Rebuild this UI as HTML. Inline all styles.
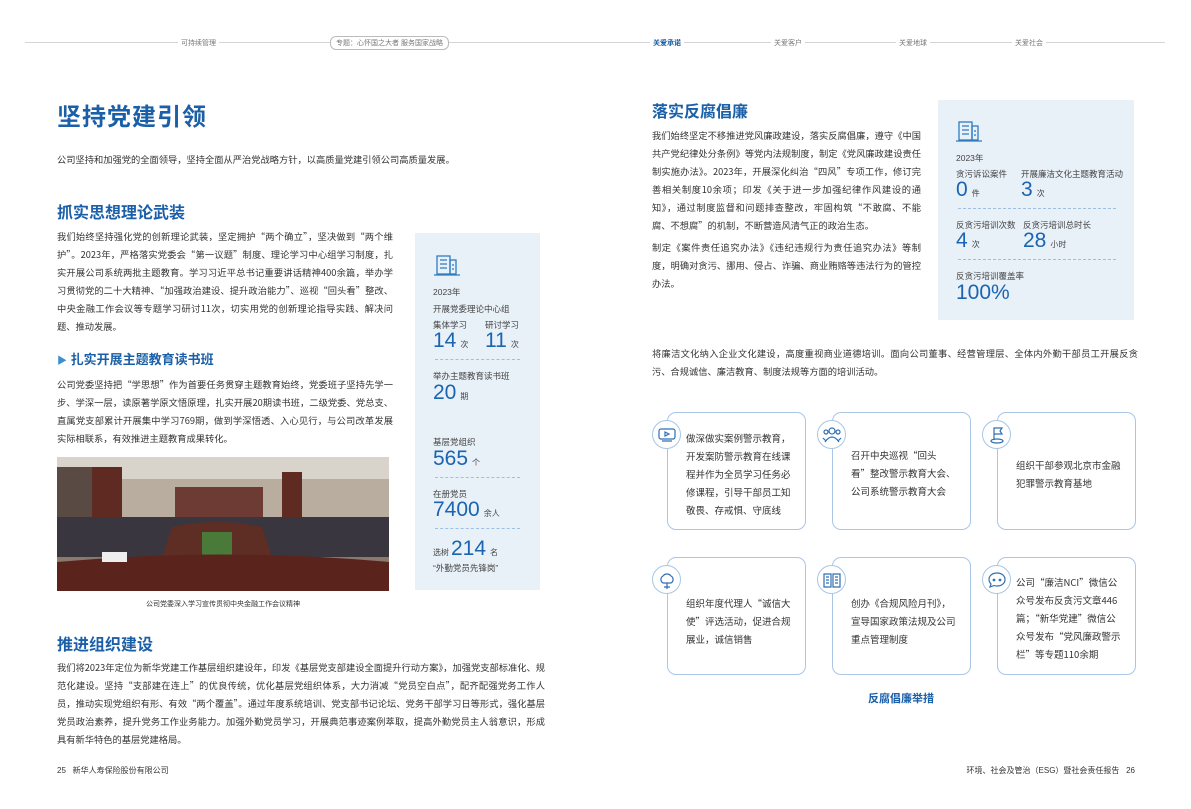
<!DOCTYPE html>
<html><head><meta charset="utf-8"><style>
*{margin:0;padding:0;box-sizing:border-box}
body{width:1191px;height:809px;background:#fff;position:relative;overflow:hidden;font-family:"Liberation Sans","Noto Sans CJK SC",sans-serif;color:#333}
.a{position:absolute}
.nav{font-size:7px;color:#777;top:38px;background:#fff;padding:0 3px}
.p{font-family:"Noto Sans CJK SC","Liberation Sans",sans-serif;font-size:9.25px;line-height:18px;color:#333;text-align:justify}
.h1{font-size:24px;color:#1a5fa8;font-weight:bold;letter-spacing:1px}
.h2{font-size:16px;color:#1a5fa8;font-weight:bold}
.box{background:#e8f0f8}
.lab{font-size:8.5px;color:#444}
.num{font-size:21px;color:#1a64b0;line-height:22px}
.num small{font-size:8px;color:#444;margin-left:4px}
.dash{border-top:1px dashed #9fbfe0;height:0}
.card{border:1.3px solid #a9c6e6;border-radius:9px;background:#fff;width:139px;height:118px}
.ct{font-family:"Noto Sans CJK SC","Liberation Sans",sans-serif;font-size:9.5px;line-height:18px;color:#333}
.ic{width:29px;height:29px;border-radius:50%;border:1.2px solid #a9c6e6;background:#fff;display:flex;align-items:center;justify-content:center}
</style></head><body>
<div class="a" style="left:25px;top:42px;width:1140px;border-top:1px solid #d4d4d4"></div>
<div class="a nav" style="left:178px">可持续管理</div>
<div class="a nav" style="left:330px;top:36px;border:1px solid #bbb;border-radius:6px;padding:1px 5px">专题：心怀国之大者 服务国家战略</div>
<div class="a nav" style="left:650px;color:#1a5fa8;font-weight:bold">关爱承诺</div>
<div class="a nav" style="left:771px">关爱客户</div>
<div class="a nav" style="left:896px">关爱地球</div>
<div class="a nav" style="left:1012px">关爱社会</div>

<div class="a h1" style="left:57px;top:97px">坚持党建引领</div>
<div class="a p" style="left:57px;top:150px;width:490px">公司坚持和加强党的全面领导，坚持全面从严治党战略方针，以高质量党建引领公司高质量发展。</div>
<div class="a h2" style="left:57px;top:199px">抓实思想理论武装</div>
<div class="a p" style="left:57px;top:227px;width:336px">我们始终坚持强化党的创新理论武装，坚定拥护“两个确立”，坚决做到“两个维护”。2023年，严格落实党委会“第一议题”制度、理论学习中心组学习制度，扎实开展公司系统两批主题教育。学习习近平总书记重要讲话精神400余篇，举办学习贯彻党的二十大精神、“加强政治建设、提升政治能力”、巡视“回头看”整改、中央金融工作会议等专题学习研讨11次，切实用党的创新理论指导实践、解决问题、推动发展。</div>
<div class="a" style="left:57px;top:349px;font-size:13px;color:#1a5fa8;font-weight:bold"><span style="color:#3a8fd0;font-size:10px">▶</span> 扎实开展主题教育读书班</div>
<div class="a p" style="left:57px;top:375px;width:336px">公司党委坚持把“学思想”作为首要任务贯穿主题教育始终，党委班子坚持先学一步、学深一层，读原著学原文悟原理，扎实开展20期读书班，二级党委、党总支、直属党支部累计开展集中学习769期，做到学深悟透、入心见行，与公司改革发展实际相联系，有效推进主题教育成果转化。</div>
<svg class="a" style="left:57px;top:457px" width="332" height="134">
<rect width="332" height="134" fill="#8a7a6e"/>
<rect width="332" height="30" fill="#d8d4cc"/>
<rect y="22" width="332" height="45" fill="#b9ada0"/>
<rect x="118" y="30" width="88" height="35" fill="#6e3a34"/>
<rect x="0" y="10" width="35" height="60" fill="#5a4a44"/>
<rect x="35" y="10" width="30" height="60" fill="#5e2a22"/>
<rect x="225" y="15" width="20" height="50" fill="#5e2a22"/>
<path d="M0 60 L332 60 L332 100 L0 100Z" fill="#3a3640"/>
<path d="M115 70 Q160 60 205 70 L220 115 L100 115Z" fill="#5e2d24"/>
<rect x="145" y="75" width="30" height="30" fill="#4a7a3a"/>
<path d="M0 105 Q166 90 332 105 L332 134 L0 134Z" fill="#5a241c"/>
<rect x="45" y="95" width="25" height="10" fill="#eee"/>
</svg>
<div class="a" style="left:57px;top:599px;width:332px;text-align:center;font-size:7px;color:#333">公司党委深入学习宣传贯彻中央金融工作会议精神</div>

<div class="a box" style="left:415px;top:233px;width:125px;height:357px"></div>
<svg class="a" style="left:434px;top:254px" width="26" height="22"><g fill="none" stroke="#2f7bc0" stroke-width="1.3"><rect x="3" y="2" width="13" height="18"/><rect x="16" y="6" width="6" height="14"/><path d="M0 21H26M6 6h7M6 10h7M6 14h7M19 10v2M19 14v2"/></g></svg>
<div class="a lab" style="left:433px;top:286px">2023年</div>
<div class="a lab" style="left:433px;top:303px">开展党委理论中心组</div>
<div class="a lab" style="left:433px;top:319px">集体学习</div>
<div class="a lab" style="left:485px;top:319px">研讨学习</div>
<div class="a num" style="left:433px;top:330px">14<small>次</small></div>
<div class="a num" style="left:485px;top:330px">11<small>次</small></div>
<div class="a dash" style="left:435px;top:359px;width:85px"></div>
<div class="a lab" style="left:433px;top:370px">举办主题教育读书班</div>
<div class="a num" style="left:433px;top:382px">20<small>期</small></div>
<div class="a lab" style="left:433px;top:436px">基层党组织</div>
<div class="a num" style="left:433px;top:448px">565<small>个</small></div>
<div class="a dash" style="left:435px;top:477px;width:85px"></div>
<div class="a lab" style="left:433px;top:488px">在册党员</div>
<div class="a num" style="left:433px;top:499px">7400<small>余人</small></div>
<div class="a dash" style="left:435px;top:528px;width:85px"></div>
<div class="a num" style="left:433px;top:538px"><small style="margin:0 2px 0 0">选树</small>214<small>名</small></div>
<div class="a lab" style="left:433px;top:562px">“外勤党员先锋岗”</div>

<div class="a h2" style="left:57px;top:631px">推进组织建设</div>
<div class="a p" style="left:57px;top:658px;width:488px">我们将2023年定位为新华党建工作基层组织建设年，印发《基层党支部建设全面提升行动方案》，加强党支部标准化、规范化建设。坚持“支部建在连上”的优良传统，优化基层党组织体系，大力消减“党员空白点”，配齐配强党务工作人员，推动实现党组织有形、有效“两个覆盖”。通过年度系统培训、党支部书记论坛、党务干部学习日等形式，强化基层党员政治素养，提升党务工作业务能力。加强外勤党员学习，开展典范事迹案例萃取，提高外勤党员主人翁意识，形成具有新华特色的基层党建格局。</div>
<div class="a" style="left:57px;top:765px;font-size:8px;color:#333">25 &nbsp; 新华人寿保险股份有限公司</div>

<div class="a h2" style="left:652px;top:98px">落实反腐倡廉</div>
<div class="a p" style="left:652px;top:126px;width:269px">我们始终坚定不移推进党风廉政建设，落实反腐倡廉，遵守《中国共产党纪律处分条例》等党内法规制度，制定《党风廉政建设责任制实施办法》。2023年，开展深化纠治“四风”专项工作，修订完善相关制度10余项；印发《关于进一步加强纪律作风建设的通知》，通过制度监督和问题排查整改，牢固构筑“不敢腐、不能腐、不想腐”的机制，不断营造风清气正的政治生态。</div>
<div class="a p" style="left:652px;top:238px;width:269px">制定《案件责任追究办法》《违纪违规行为责任追究办法》等制度，明确对贪污、挪用、侵占、诈骗、商业贿赂等违法行为的管控办法。</div>

<div class="a box" style="left:938px;top:100px;width:196px;height:220px"></div>
<svg class="a" style="left:956px;top:120px" width="26" height="22"><g fill="none" stroke="#2f7bc0" stroke-width="1.3"><rect x="3" y="2" width="13" height="18"/><rect x="16" y="6" width="6" height="14"/><path d="M0 21H26M6 6h7M6 10h7M6 14h7M19 10v2M19 14v2"/></g></svg>
<div class="a lab" style="left:956px;top:152px">2023年</div>
<div class="a lab" style="left:956px;top:168px">贪污诉讼案件</div>
<div class="a lab" style="left:1021px;top:168px">开展廉洁文化主题教育活动</div>
<div class="a num" style="left:956px;top:179px">0<small>件</small></div>
<div class="a num" style="left:1021px;top:179px">3<small>次</small></div>
<div class="a dash" style="left:958px;top:208px;width:158px"></div>
<div class="a lab" style="left:956px;top:219px">反贪污培训次数</div>
<div class="a lab" style="left:1023px;top:219px">反贪污培训总时长</div>
<div class="a num" style="left:956px;top:230px">4<small>次</small></div>
<div class="a num" style="left:1023px;top:230px">28<small>小时</small></div>
<div class="a dash" style="left:958px;top:259px;width:158px"></div>
<div class="a lab" style="left:956px;top:270px">反贪污培训覆盖率</div>
<div class="a num" style="left:956px;top:282px">100%</div>

<div class="a p" style="left:652px;top:344px;width:486px">将廉洁文化纳入企业文化建设，高度重视商业道德培训。面向公司董事、经营管理层、全体内外勤干部员工开展反贪污、合规诚信、廉洁教育、制度法规等方面的培训活动。</div>

<div class="a card" style="left:667px;top:412px"></div>
<div class="a card" style="left:832px;top:412px"></div>
<div class="a card" style="left:997px;top:412px"></div>
<div class="a card" style="left:667px;top:557px"></div>
<div class="a card" style="left:832px;top:557px"></div>
<div class="a card" style="left:997px;top:557px"></div>

<div class="a ic" style="left:652px;top:420px"><svg width="18" height="16"><g fill="none" stroke="#2f6fb5" stroke-width="1.2"><rect x="1" y="2" width="16" height="10" rx="2"/><path d="M7 5l4 2-4 2z M4 14h10"/></g></svg></div>
<div class="a ic" style="left:817px;top:420px"><svg width="20" height="18"><g fill="none" stroke="#2f6fb5" stroke-width="1.2"><circle cx="10" cy="5" r="3"/><circle cx="4" cy="6" r="2"/><circle cx="16" cy="6" r="2"/><path d="M3 16q7-10 14 0M1 12l3 3M19 12l-3 3"/></g></svg></div>
<div class="a ic" style="left:982px;top:420px"><svg width="18" height="18"><g fill="none" stroke="#2f6fb5" stroke-width="1.2"><path d="M6 14V2h8l-2 3 2 3H6"/><ellipse cx="9" cy="15" rx="6" ry="2"/></g></svg></div>
<div class="a ic" style="left:652px;top:565px"><svg width="18" height="20"><g fill="none" stroke="#2f6fb5" stroke-width="1.2"><path d="M5 13a4 4 0 0 1 0-7a5 5 0 0 1 8 0a4 4 0 0 1 0 7zM9 13v6M6 17h6"/></g></svg></div>
<div class="a ic" style="left:817px;top:565px"><svg width="18" height="16"><g fill="none" stroke="#2f6fb5" stroke-width="1.2"><path d="M1 2h7v13H1zM10 2h7v13h-7zM3 5h3M3 8h3M3 11h3M12 5h3M12 8h3M12 11h3"/></g></svg></div>
<div class="a ic" style="left:982px;top:565px"><svg width="18" height="16"><g fill="none" stroke="#2f6fb5" stroke-width="1.2"><path d="M9 1c5 0 8 3 8 6.5S14 14 9 14c-1 0-2 0-3-.5L2 15l1-3C1.7 10.5 1 9 1 7.5 1 4 4 1 9 1z"/><circle cx="6" cy="8" r=".8"/><circle cx="12" cy="8" r=".8"/></g></svg></div>

<div class="a ct" style="left:686px;top:429px;width:106px">做深做实案例警示教育，开发案防警示教育在线课程并作为全员学习任务必修课程，引导干部员工知敬畏、存戒惧、守底线</div>
<div class="a ct" style="left:851px;top:446px;width:106px">召开中央巡视“回头看”整改警示教育大会、公司系统警示教育大会</div>
<div class="a ct" style="left:1016px;top:456px;width:106px">组织干部参观北京市金融犯罪警示教育基地</div>
<div class="a ct" style="left:686px;top:594px;width:106px">组织年度代理人“诚信大使”评选活动，促进合规展业，诚信销售</div>
<div class="a ct" style="left:851px;top:594px;width:106px">创办《合规风险月刊》，宣导国家政策法规及公司重点管理制度</div>
<div class="a ct" style="left:1016px;top:573px;width:106px">公司“廉洁NCI”微信公众号发布反贪污文章446篇；“新华党建”微信公众号发布“党风廉政警示栏”等专题110余期</div>
<div class="a" style="left:868px;top:690px;font-size:11px;color:#1a5fa8;font-weight:bold">反腐倡廉举措</div>
<div class="a" style="left:920px;top:765px;width:215px;text-align:right;font-size:8px;color:#333">环境、社会及管治（ESG）暨社会责任报告 &nbsp; 26</div>
</body></html>
